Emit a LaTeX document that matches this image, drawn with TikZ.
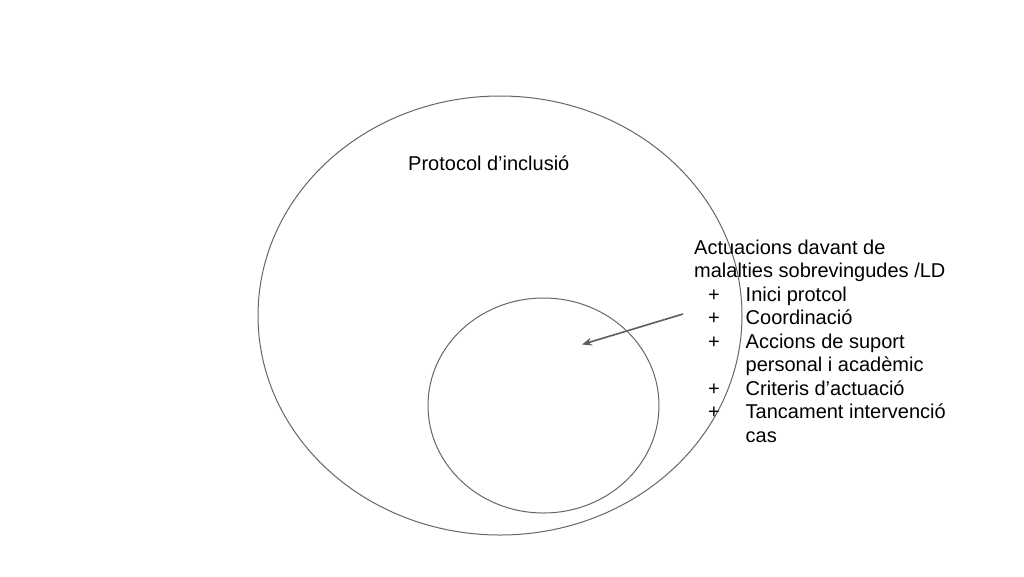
\documentclass[tikz,border=0pt]{standalone}
\usepackage{fontspec}
\setmainfont{Liberation Sans}
\usetikzlibrary{shapes.geometric,arrows.meta}
\definecolor{linegray}{HTML}{666666}
\definecolor{arrowgray}{HTML}{5E5E5E}
\newcommand\itemline[1]{\makebox[51.5pt][l]{\hspace*{14pt}+}#1}
\newcommand\contline[1]{\hspace*{51.5pt}#1}
\tikzset{
  ring/.style={draw=linegray, line width=1pt, ellipse, inner sep=0pt},
  label text/.style={font=\fontsize{20pt}{23.5pt}\selectfont, inner sep=0pt, text=black},
  pointer/.style={draw=arrowgray, line width=1.6pt, -{Stealth[length=10pt,width=8pt]}}
}
\begin{document}
\begin{tikzpicture}[x=1pt,y=-1pt]
\useasboundingbox[fill=white] (0,0) rectangle (1024,576);
\node[ring, minimum width=484pt, minimum height=439pt] (outer) at (500,315.5) {};
\node[ring, minimum width=231pt, minimum height=215pt] (inner) at (543.5,405.5) {};
\node[label text, anchor=base west] (title) at (408,170) {Protocol d’inclusió};
\node[label text, anchor=north west, align=left] (list) at (694,239.5) {%
Actuacions davant de\\
malalties sobrevingudes /LD\\
\itemline{Inici protcol}\\
\itemline{Coordinació}\\
\itemline{Accions de suport}\\
\contline{personal i acadèmic}\\
\itemline{Criteris d’actuació}\\
\itemline{Tancament intervenció}\\
\contline{cas}};
\coordinate (arrowstart) at (683,314);
\coordinate (arrowend) at (582,344.5);
\draw[pointer] (arrowstart) -- (arrowend);
\end{tikzpicture}
\end{document}
